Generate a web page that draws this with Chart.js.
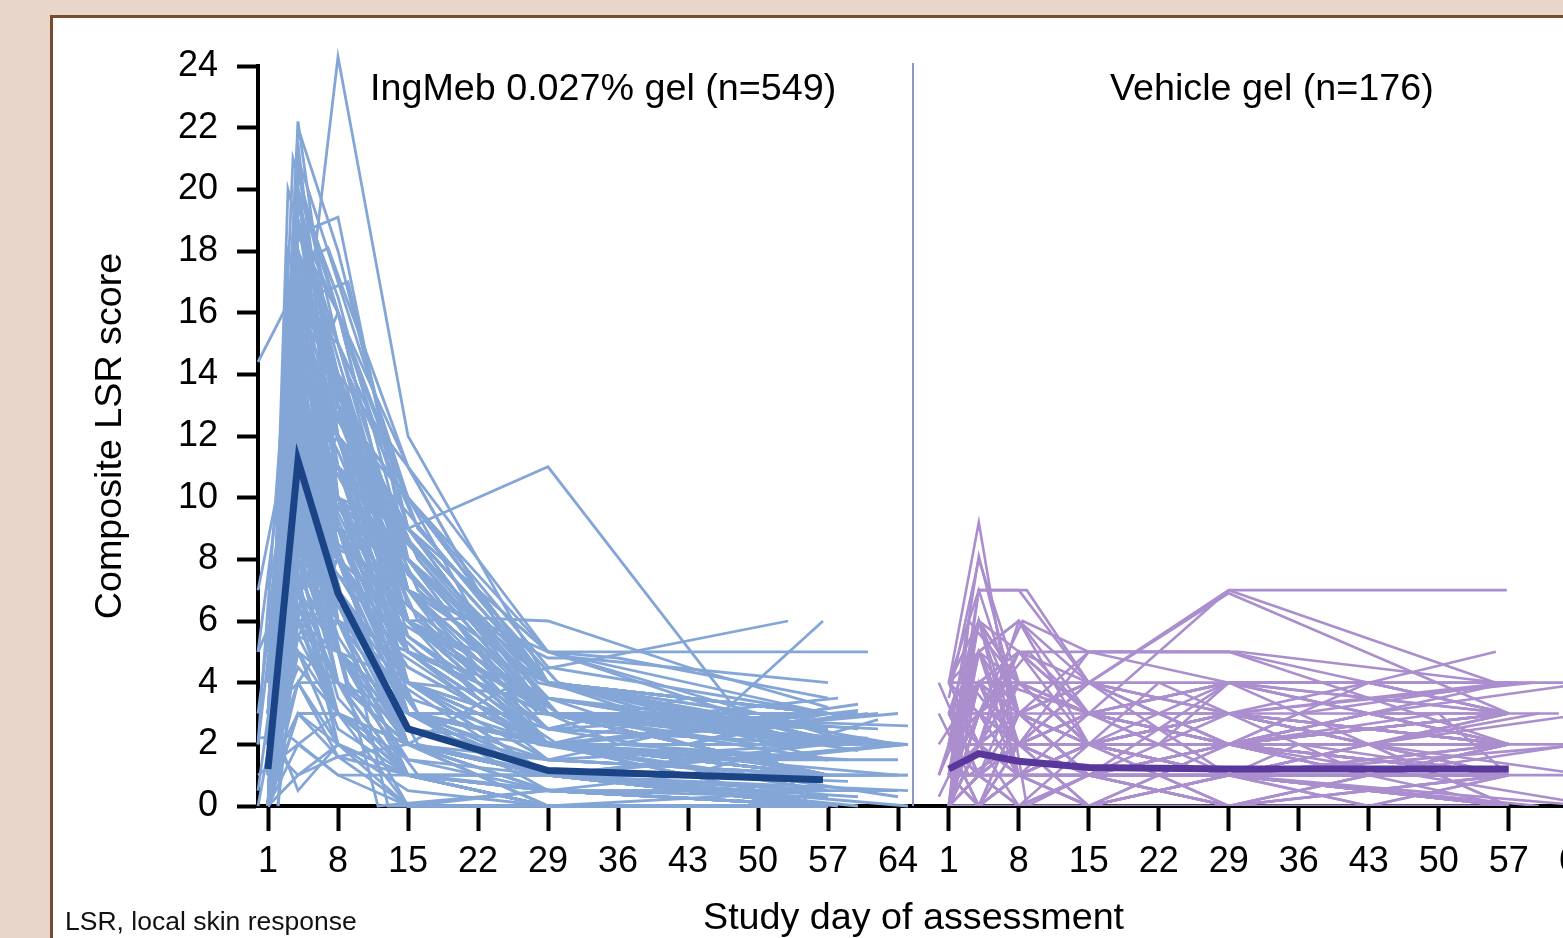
<!DOCTYPE html>
<html><head><meta charset="utf-8">
<script src="https://cdn.jsdelivr.net/npm/chart.js@4/dist/chart.umd.min.js"></script>
<style>
html,body{margin:0;padding:0;width:1563px;height:938px;overflow:hidden;background:#e9d6cb;font-family:'Liberation Sans',Arial,sans-serif;}
#panel{position:absolute;left:50px;top:15px;width:1600px;height:1000px;background:#fff;border:3px solid #7a4a2c;}
canvas{position:absolute;top:0;}
.lbl{position:absolute;white-space:nowrap;color:#000;line-height:1;}
#divider{position:absolute;left:912px;top:63px;width:2px;height:743px;background:#8d96c6;}
</style></head><body>
<div id="panel"></div>
<canvas id="cLeft" width="960" height="938" style="left:0;width:960px;height:938px"></canvas>
<canvas id="cRight" width="681" height="938" style="left:913px;width:681px;height:938px"></canvas>
<div id="divider"></div>
<div class="lbl" style="left:370px;top:69px;font-size:37.7px">IngMeb 0.027% gel (n=549)</div>
<div class="lbl" style="left:1110px;top:69px;font-size:37.7px">Vehicle gel (n=176)</div>
<div class="lbl" style="left:703px;top:898px;font-size:37.7px">Study day of assessment</div>
<div class="lbl" style="left:65px;top:908px;font-size:26.5px;color:#111">LSR, local skin response</div>
<script>
// ---- tick labels ----
const dayTicks = [1, 8, 15, 22, 29, 36, 43, 50, 57, 64];
const scoreTicks = [0, 2, 4, 6, 8, 10, 12, 14, 16, 18, 20, 22, 24];

// ---- group means: [day, score, day, score, ...] ----
const ingmebMean = [1,1.2, 4,11.2, 8,6.9, 15,2.5, 29,1.15, 56.5,0.85];
const vehicleMean = [1,1.2, 4,1.7, 8,1.45, 15,1.25, 29,1.2, 57,1.2];

// ---- individual patients: [day, score, day, score, ...] ----
const ingmebPatients = [
 [0,14.4, 5.7,18, 8,24.3, 15,12, 29,4, 57,1.5],
 [1,1, 4,22.2, 8,13, 15,5, 29,2, 57,0.5],
 [1,2, 4,21.5, 8,10, 15,3, 29,1, 57,0],
 [1,0, 4,20.5, 8,15, 15,7, 29,3, 58,2],
 [1,3, 4,19.8, 8,12, 15,4, 29,1, 57,1],
 [1,1, 3.5,18.5, 8,19.1, 15,8, 29,2, 57,1],
 [1,0, 4,17.5, 7,18.1, 15,11, 29,3, 60,2],
 [2,4, 5,16.5, 9,17, 15,9, 29,4, 57,3],
 [1,2, 4,17, 8,11, 15,6, 22,6.1, 29,6, 43,4.5, 57,3.2],
 [1,0, 4,16.5, 8,9, 15,3, 29,1, 57,0],
 [1,5, 4,16, 8,14, 12,10.6, 15,9, 29,11, 55,0.1],
 [1,1, 4,15.5, 8,8, 15,2, 29,0.5, 57,0],
 [0,5, 4,15, 8,12, 15,6, 29,3, 62,2],
 [1,2, 3,14.5, 8,10, 15,4, 29,2, 57,1],
 [1,0, 4,14, 8,7, 15,2, 29,1, 57,0],
 [1,3, 4,13.5, 8,13, 15,8, 29,4, 50,3],
 [1,1, 5,13, 8,6, 15,1, 29,0, 57,0],
 [2,0, 4,12.5, 8,11, 15,5, 29,2, 64,1],
 [1,4, 4,12, 8,9, 15,7, 29,5, 61,5],
 [1,2, 4,11.5, 8,5, 15,2, 29,1, 57,1],
 [1,0, 4,11, 8,8, 15,3, 29,1, 58,0],
 [1,6, 3,10.5, 8,7, 15,4, 29,2, 57,2],
 [1,1, 4,10, 8,12, 15,6, 29,3, 65,2.6],
 [1,0, 4,9.5, 8,4, 15,1, 29,0, 57,0],
 [1,2, 4,9, 8,6, 15,2, 29,1, 57,0],
 [1,3, 5,8.5, 8,10, 15,4, 29,2, 57,2],
 [1,0, 4,8, 8,3, 15,1, 29,0, 57,0],
 [1,1, 4,7.5, 8,5, 15,2, 28,4.4, 53,6],
 [1,0, 4,7, 8,2, 15,0.5, 29,0, 57,0],
 [1,1, 4,6.5, 8,4, 15,1, 29,0.5, 57,0],
 [1,0, 4,6, 8,3, 15,0, 29,0, 57,0],
 [1,2, 4,5.5, 8,8, 15,3, 29,1, 57,0.5],
 [1,1, 4,5, 8,2, 15,1, 29,0, 57,0],
 [1,0, 4,4, 8,6, 15,5, 29,2, 57,1],
 [1,7, 4,12, 8,9, 15,4, 29,2, 57,1],
 [0,2, 4,13, 8,16, 15,10, 29,4, 57,2],
 [1,1, 3,18, 8,14, 15,6, 29,2, 57,0],
 [1,0, 4,19, 8,11, 15,4, 29,1, 60,0],
 [1,2, 3.5,21, 8,16, 15,7, 29,3, 57,2],
 [1,4, 4,15, 8,10, 15,5, 29,3, 46,2.9, 56.5,6],
 [1,0, 4,10.5, 8,6, 15,2, 29,1, 57,0],
 [1,3, 4,9, 8,11, 15,7, 29,4.8, 32,4.8, 57,4],
 [1,1, 5,11, 8,7, 15,3, 29,1, 64,2],
 [1,0, 4,14.5, 8,8, 15,2, 29,0, 57,0],
 [1,2, 4,16, 8,12, 15,5, 29,2, 57,1],
 [1,0, 3,12, 8,5, 15,1, 29,0, 57,0],
 [1,1, 4,8.5, 8,4, 15,2, 29,1, 57,0.5],
 [1,0, 4,13, 8,9, 15,4, 29,2, 62,2],
 [1,5, 4,17.5, 8,13, 15,6, 29,3, 57,3],
 [1,2, 4,11, 8,10, 15,6, 29,2, 65,2],
 [1,0, 4,6, 8,5, 15,2, 29,1, 57,0],
 [0,0.5, 4,10, 8,7, 15,3, 29,1, 57,0],
 [1,1, 4,14, 8,10, 15,3, 29,1, 65,1],
 [1,3, 4,12.5, 8,7, 15,2, 29,0, 57,0],
 [1,0, 4,9.5, 8,8, 15,5, 29,3, 60,3],
 [1,2, 4,15, 8,11, 15,4, 29,1, 57,1],
 [1,1, 4,7, 8,9, 15,6, 29,2, 57,2],
 [1,0, 4,5, 8,3, 15,2, 29,1, 57,1],
 [1,4, 4,8, 8,6, 15,3, 29,2, 64,0.3],
 [1,0, 4,18, 8,12, 15,5, 29,2, 57,1],
 [0,7, 4,13.5, 8,9, 15,3, 29,1, 57,0],
 [1,2, 4,9, 8,5, 15,1, 29,0.5, 57,0],
 [1,0, 4,12, 8,8, 15,4, 29,2, 57,3],
 [1,1, 4,16.5, 8,10, 15,3, 29,1, 57,0],
 [1,3, 4,10, 8,6, 15,2, 29,1, 50,1],
 [1,0, 4,6.5, 8,3, 15,1, 29,0, 57,0],
 [1,2, 4,19.5, 8,14, 15,6, 29,3, 57,2],
 [1,1, 4,8, 8,10, 15,8, 29,3, 57,1],
 [1,0, 4,11.5, 8,6, 15,1, 29,0, 57,0],
 [1,6, 4,14, 8,12, 15,7, 29,4, 60,2],
 [1,0, 4,3, 8,2, 15,1, 29,0, 57,0],
 [1,2, 4,4.5, 8,3, 15,2, 29,1, 57,1],
 [0,2, 4,20, 8,13, 15,5, 29,2, 57,0],
 [1,1, 4,13, 8,11, 15,9, 29,3, 57,2],
 [1,0, 4,10, 8,4, 15,0, 29,0, 57,0],
 [1,3, 4,15.5, 8,9, 15,4, 29,2, 62,3],
 [1,1, 4,7, 8,5, 15,3, 29,1, 57,2],
 [1,0, 4,12.5, 8,10, 15,6, 29,2, 57,0],
 [1,2, 4,9.5, 8,7, 15,2, 29,1, 65,1],
 [1,0, 4,17, 8,9, 15,3, 29,0.5, 57,0],
 [1,1, 4,11, 8,13, 15,10, 29,4, 57,3],
 [1,4, 4,6, 8,4, 15,2, 29,1, 57,0],
 [1,0, 4,14.5, 8,12, 15,5, 29,3, 57,1],
 [1,2, 4,8.5, 8,6, 15,3, 29,2, 57,2],
 [1,0, 4,13, 8,7, 15,2, 29,0, 57,0],
 [1,1, 4,10.5, 8,9, 15,4, 29,1, 57,1],
 [1,0, 4,7.5, 8,2, 15,0, 29,0, 57,0],
 [1,3, 4,16, 8,15, 15,8, 29,4, 57,2],
 [1,1, 4,5.5, 8,5, 15,4, 29,2, 57,1],
 [1,0, 4,9, 8,4, 15,1, 29,0, 57,0],
 [0,2.2, 3,2.3, 8,1, 15,0, 29,0.5, 57,0.3],
 [0,5, 4,8, 8,5, 15,2, 29,1, 57,1],
 [1,0, 3,6, 7,9, 14,4, 28,1, 65,2],
 [2,1, 5,12, 9,8, 16,3, 30,2, 60,3.1],
 [1,0, 4,16, 8,11, 14,6, 29,3, 57,2.5],
 [1,2, 5,10, 9,6, 16,3, 30,1, 62,1],
 [1,0, 3,14, 7,10, 14,5, 28,2, 57,0.5],
 [2,3, 5,9, 9,7, 16,5, 30,2, 64,3],
 [1,1, 4,12, 8,10, 15,9, 29,5, 36,4.8, 57,3.5],
 [1,1, 4,18, 15,6, 29,2, 57,1],
 [1,0, 3,16, 15,8, 29,3, 57,2],
 [1,2, 4,20, 15,9, 29,4, 57,2],
 [1,3, 5,15, 15,7, 29,3, 64,2],
 [1,0, 4,14, 15,10, 29,4, 57,3],
 [1,1, 4,17, 9,13, 16,8, 29,3, 57,1],
 [2,2, 5,19, 9,15, 16,9, 30,4, 60,2],
 [1,0, 4,21, 8,17, 15,10, 22,7, 29,4, 57,2],
 [1,1, 3,16.5, 7,14, 14,9, 28,4, 57,2],
 [1,4, 4,18.5, 8,16, 15,11, 29,5, 57,3],
 [1,0, 4,12, 8,14, 15,8, 22,5, 29,3, 57,1],
 [1,2, 4,15, 8,13, 15,7, 29,4, 43,3, 57,2],
 [1,1, 4,13, 8,12, 15,9, 29,5, 50,3, 62,2],
 [1,0, 3,11, 8,13, 15,10, 29,5, 57,2],
 [1,3, 4,16, 8,11, 15,8, 29,4, 57,3],
 [1,2, 5,14, 9,12, 16,7, 30,3, 57,2],
 [1,0, 4,10, 8,11, 15,9, 29,4, 64,2],
 [1,1, 4,19, 8,16, 15,7, 29,2, 57,1],
 [1,2, 4,17, 8,12, 15,8, 29,3, 57,2.5],
 [1,0, 4,15, 8,10, 15,6, 29,3.5, 57,2],
 [0,3, 4,13, 8,11, 15,7, 29,3, 65,2],
 [1,0, 4,11, 8,9, 15,8, 29,3, 57,3],
 [1,1, 4,9, 8,10, 15,7, 22,4, 29,2, 57,2],
 [1,2, 4,12, 8,8, 15,6, 29,2.5, 57,2],
 [1,0, 4,14, 8,9, 15,5, 29,3, 57,1.5],
 [1,3, 4,13, 8,10, 15,5.5, 29,2, 60,2],
 [1,1, 4,16, 8,12, 15,7.5, 29,3, 57,2],
 [1,0, 4,18, 8,13, 15,6.5, 29,2, 57,1],
 [1,2, 4,10, 8,8, 15,4.5, 29,2, 57,2],
 [1,0, 4,8, 8,7, 15,4, 29,2.5, 57,3],
 [1,1, 4,6, 8,6, 15,5, 29,3, 57,2.5],
 [1,0, 4,7, 8,8, 15,5, 29,2, 57,2],
 [1,4, 4,9, 8,8, 15,6, 29,3, 50,2],
 [1,2, 4,11, 8,7, 15,3.5, 29,2, 57,3],
 [1,0, 3,20, 8,14, 15,6, 29,2.5, 57,2],
 [1,1, 4,22, 8,18, 15,9, 29,3, 57,1],
 [1,3, 4,19, 8,15, 15,10, 29,4.5, 57,3],
 [1,0, 4,17.5, 8,14, 15,8.5, 29,3.5, 57,2],
 [1,2, 4,16, 7,15, 14,8, 28,3, 57,2],
 [1,1, 5,14.5, 9,11, 16,6, 30,3, 62,2],
 [1,0, 4,12.5, 8,9.5, 15,5, 29,2, 57,1],
 [1,2, 4,10, 8,6, 15,3, 29,1.5, 57,2],
 [1,0, 4,8.5, 8,7, 15,3, 29,2, 57,1],
 [1,1, 4,13.5, 8,8, 15,4, 29,1.5, 57,1],
 [1,0, 4,11, 8,5, 15,2.5, 29,2, 57,1.5],
 [1,2, 4,7, 8,4, 15,2, 29,1.5, 57,1],
 [1,0, 4,5, 8,4, 15,3, 29,2, 57,2],
 [1,1, 4,3, 8,3, 15,2, 29,1, 57,1],
 [1,0, 4,2, 8,1, 15,1, 29,1, 57,0.5],
 [1,3, 4,4, 8,2, 15,1, 29,0.5, 57,0],
 [1,0, 4,1, 8,2, 15,1, 29,0, 57,0],
 [1,2, 4,6, 8,3, 15,1, 29,1, 57,1],
 [1,0, 4,9, 8,5, 15,2, 29,1, 65,0.5],
 [1,1, 4,12, 8,6, 15,2, 29,0.5, 57,0.5],
 [1,0, 4,15, 8,7, 15,3, 29,1, 57,0],
 [1,2, 4,18, 8,9, 15,3, 29,1, 57,1],
 [1,0, 4,20, 8,10, 15,4, 29,1, 57,0.5],
 [1,1, 4,14, 8,6, 15,2, 29,1, 57,0],
 [1,0, 4,10, 8,5, 15,1.5, 29,0.5, 57,0],
 [1,3, 4,8, 8,3.5, 15,1, 29,0, 57,0],
 [1,0, 4,6, 8,2.5, 15,1, 29,0.5, 57,0],
 [2,1, 5,11, 9,6, 16,2, 30,1, 64,1],
 [2,0, 5,9, 9,4, 16,1, 30,0.5, 64,0.5],
 [2,2, 5,13, 9,7, 16,3, 30,1, 60,1],
 [1,0, 4,16, 8,8, 15,2, 29,0.5, 57,0],
 [1,1, 4,7, 8,3, 15,1, 29,1, 65,0],
 [1,0, 4,12, 8,6.5, 15,2, 29,1, 57,0.5],
 [1,2, 4,9.5, 8,5.5, 15,2, 29,1, 57,1],
 [1,0, 4,5.5, 8,3, 15,1.5, 29,1, 57,0.5],
 [1,1, 4,4, 8,4, 15,2.5, 29,1.5, 57,1],
 [1,0, 4,3, 8,1.6, 15,1, 29,1, 57,0.5],
 [1,2, 4,1, 8,1.6, 15,0, 29,0, 57,0],
 [1,1, 4,4, 8,1.6, 15,2, 29,1, 57,1],
 [0,1, 4,2, 8,3, 15,1, 29,0.5, 57,0],
 [1,3, 4,0.5, 8,2, 15,1, 29,0, 57,0.5],
 [0,0, 4,7, 8,5, 15,3, 29,1, 57,1],
 [1,0, 4,13, 11,9, 15,7, 29,3, 57,2],
 [1,1, 4,15, 11,11, 15,8, 29,4, 57,2],
 [1,2, 4,12, 11,8, 15,6, 29,3, 57,1],
 [1,0, 4,17, 10,12, 15,9, 29,4, 57,2],
 [1,1, 4,11, 10,9, 15,7, 29,3, 57,2],
 [1,0, 4,9, 10,8, 15,6, 29,2, 57,1],
 [1,2, 5,16, 8,13, 15,8, 22,5, 29,3, 57,2],
 [1,0, 4,14, 8,12, 15,9, 22,6, 29,4, 43,3, 57,2],
 [1,1, 4,10, 8,10, 15,8, 22,6, 29,3, 57,2],
 [1,3, 4,12, 8,11, 15,7, 22,5, 29,3, 43,2, 57,3],
 [1,0, 4,18, 8,15, 15,10, 22,6, 29,4, 57,2],
 [1,2, 4,13, 8,9, 15,6, 22,4, 29,3, 57,2],
 [1,1, 4,16, 8,14, 15,11, 22,7, 29,4, 57,3],
 [1,0, 4,11, 8,10, 15,7, 22,4.5, 29,3, 57,1],
 [1,2, 4,8, 8,9, 15,6, 22,3.5, 29,2, 57,2],
 [1,0, 4,15, 8,11, 15,8.5, 29,4, 50,3, 60,2],
 [1,1, 4,12, 8,10, 15,8, 29,3.5, 43,3, 57,2.5],
 [1,0, 4,10, 8,9, 15,7, 29,3, 43,2.5, 64,2],
 [1,3, 4,13, 8,12, 15,9.5, 29,4, 57,3],
 [1,1, 4,9, 8,8.5, 15,6.5, 29,3, 57,2],
 [1,0, 4,7, 8,7.5, 15,5.5, 29,2.5, 57,2],
 [1,2, 4,6, 8,6.5, 15,4.5, 29,2, 57,1.5],
 [1,0, 4,14, 8,11.5, 15,6, 29,2, 57,1],
 [1,1, 4,19, 8,14.5, 15,7, 29,2.5, 57,1],
 [1,0, 4,17, 8,13.5, 15,5.5, 29,2, 57,1],
 [1,2, 4,20, 8,16.5, 15,8, 29,3, 57,2],
 [1,0, 4,21, 8,12, 15,6, 29,2, 57,1],
 [1,1, 3,17, 8,11, 15,5, 29,2, 57,1],
 [1,0, 3,15, 8,12, 15,4, 29,1.5, 57,1],
 [1,2, 5,18, 9,14, 16,9, 30,4, 57,2],
 [1,0, 5,16, 9,13, 16,8, 30,3, 57,2],
 [2,1, 5,14, 9,12, 16,7, 30,3, 62,2.5],
 [1,0, 4,12, 8,7, 13,0, 29,0, 57,0],
 [1,1, 4,10, 8,5, 12,0, 29,0.5, 57,0],
 [1,1, 4,12, 8,8, 15,4, 29,2, 43,3, 60,2.5],
 [1,0, 4,10, 8,7, 15,3, 29,3, 43,2, 59,3],
 [1,2, 4,14, 8,9, 15,5, 29,3.5, 50,2.5, 61,3],
 [1,0, 4,9, 8,6, 15,4, 29,2.5, 43,3.5, 58,2],
 [1,1, 4,11, 8,8, 15,5, 29,1.5, 43,2.5, 60,3.3],
 [1,0, 4,13, 8,10, 15,6, 29,3, 36,2, 59,1.5],
 [1,2, 4,8, 8,6, 15,3, 29,2, 43,1, 62,2.8],
 [1,0, 4,15, 8,11, 15,5, 29,2, 50,1.5, 65,2],
 [1,1, 4,7, 8,5, 15,3, 29,3, 43,3, 58,3.5],
 [1,0, 4,12, 8,9, 15,4, 29,3.5, 43,2, 57,3.2],
 [1,3, 4,10, 8,7, 15,4, 29,2.5, 36,3, 60,1.8],
 [1,0, 4,16, 8,12, 15,6, 29,4, 43,2.5, 61,2.2],
 [1,1, 4,9, 8,7, 15,3, 29,1, 43,1.5, 64,1.5],
 [1,0, 4,11, 8,8, 15,2, 29,0.5, 43,1, 59,0.8],
 [1,2, 4,13, 8,9, 15,4, 29,1, 50,0.5, 60,0.3]
];

const vehiclePatients = [
 [1,4, 4,9.2, 8.8,0, 15,1, 29,1, 57,1],
 [1,2, 4,8.1, 8,3, 15,2, 29,1, 57,0],
 [1,0, 4,7, 8.8,7, 15,4, 29,7, 56.8,7],
 [1,1, 4,3, 8.4,6, 15,5, 24.6,5, 30,5, 56,4],
 [1,3, 4,4, 8,4, 15,3, 29,7, 55.7,4],
 [1,0, 4,2, 8,6, 15,3, 29,2, 57,1],
 [1,4, 4,7, 8,3, 15,2, 29,3, 57,2],
 [0,1, 4,5, 8,2, 15,1, 29,1, 57,0],
 [1,2, 4,6, 8,4, 15,2, 29,2, 57,3],
 [1,0, 4,1, 8,1, 15,0, 29,1, 57,1],
 [1,1, 4,0, 8,2, 15,3, 29,1, 65,0],
 [1,4, 4,4, 8.2,4, 15,4, 29,4, 57.9,4],
 [1,3, 4,2, 8,1, 15,2, 29,0, 57,2],
 [1,0, 4,0, 8,0, 15,1, 29,2, 57,3],
 [1,2, 4,3, 8,5, 15,5, 29,5, 43,4, 55.7,5],
 [1,1, 4,1, 8,1, 15,1, 29,1, 65,1],
 [1,0, 4,2, 8,3, 15,4, 29,3, 59.5,4],
 [1,2, 4,1, 8,0, 15,0, 29,1, 57,1],
 [1,3, 4,5, 8,2, 15,2, 29,2, 65,2],
 [1,0, 4,3, 8,2, 15,1, 29,0, 57,0],
 [1,1, 4,2, 8,3, 15,2, 29,4, 65,4],
 [0,4, 4,1, 8,0, 15,2, 29,3, 57,3],
 [1,2, 4,4, 8,3, 15,1, 29,1, 57,2],
 [1,0, 4,1, 8,2, 15,3, 29,2, 57,1],
 [1,1, 4,3, 8,1, 15,0, 29,0, 57,0],
 [1,3, 4,6, 8,5, 15,3, 29,4, 57,3],
 [1,0, 4,0, 8,1, 15,2, 29,3, 57,2],
 [1,2, 4,2, 8,2, 15,2, 29,2, 57,2],
 [1,1, 4,4, 8,3, 15,2, 29,1, 60,0],
 [1,0, 4,2, 8,1, 15,1, 29,0, 57,1],
 [1,4, 4,3, 8,4, 15,3, 29,2, 57,1],
 [1,2, 4,0, 8,1, 15,1, 29,3, 57,4],
 [1,0, 4,1, 8,0, 15,0, 29,0, 57,0],
 [1,1, 4,2, 8,4, 15,3, 29,3, 57,2],
 [0,0.3, 4,3, 8,2, 15,1, 29,1, 65,2],
 [1,3, 4,1, 8,2, 15,4, 29,3, 57,1],
 [1,0, 4,5, 8,3, 15,2, 29,1, 57,0],
 [1,2, 4,2, 8,1, 15,2, 29,0, 57,1],
 [1,1, 4,0, 8,3, 15,1, 29,2, 57,3],
 [1,0, 4,1, 8,2, 15,0, 29,1, 57,2],
 [1,3.5, 4,8, 8,4, 15,2, 29,1, 57,1],
 [1,0, 4,0, 8,0, 15,0, 29,1, 57,0],
 [1,2, 4,3, 8,2, 15,3, 29,2, 66,0],
 [1,1, 4,1, 8,1, 15,2, 29,1, 57,1],
 [1,0, 4,2, 8,3, 15,1, 29,4, 57,2],
 [1,4, 4,5, 8,6, 15,4, 22,3, 29,2, 57,3],
 [1,2, 4,1, 8,2, 15,5, 29,5, 57,2],
 [1,1, 4,7, 8,7, 15,4, 29,6.9, 57,3],
 [0,1, 4,4, 8,5, 15,3, 29,2, 57,1],
 [1,0, 4,6, 8,2, 15,0, 29,2, 57,0],
 [1,1, 4,2, 8,3, 15,2, 22,4, 29,3, 43,2, 57,3],
 [1,0, 4,1, 8,2, 15,3, 22,2, 29,4, 43,3, 57,2],
 [1,2, 4,3, 8,1, 15,0, 22,1, 29,2, 36,3, 57,4],
 [1,3, 4,2, 8,4, 15,2, 29,1, 43,2, 57,0],
 [1,0, 4,4, 8,2, 15,3, 29,2, 50,3, 57,1],
 [1,1, 4,5, 8,3, 15,1, 29,2, 43,1, 57,2],
 [1,2, 4,0, 8,1, 15,2, 29,3, 43,4, 57,3],
 [1,0, 4,2, 8,5, 15,4, 29,3, 43,2, 60,3],
 [1,1, 4,3, 8,2, 15,2, 29,1, 36,2, 57,1],
 [1,4, 4,6, 8,4, 15,3, 29,4, 43,3, 57,2],
 [1,0, 4,0, 8,1, 15,1, 29,2, 43,1, 64,2],
 [1,2, 4,1, 8,3, 15,4, 29,2, 43,3, 57,4],
 [1,1, 4,2, 8,0, 15,1, 29,1, 43,0, 57,1],
 [1,3, 4,4, 8,3, 15,5, 29,4, 43,4, 57,3],
 [1,0, 4,3, 8,4, 15,2, 29,1, 43,2, 65,3],
 [1,2, 4,5, 8,2, 15,1, 29,0, 43,1, 57,2],
 [1,1, 4,1, 8,2, 15,3, 29,3, 43,2, 57,1],
 [1,0, 4,2, 8,1, 15,0, 29,1, 43,2, 57,0],
 [1,3, 4,3, 8,2, 15,1, 29,2, 43,3, 65,4],
 [1,2, 4,4, 8,5, 15,3, 29,2, 43,1, 57,2],
 [1,0, 4,1, 8,0, 15,1, 29,0, 43,1, 57,2],
 [1,1, 4,0, 8,2, 15,2, 29,3, 43,2, 65,1],
 [1,4, 4,2, 8,1, 15,2, 29,1, 43,2, 57,3],
 [1,0, 4,3, 8,3, 15,4, 29,2, 43,3, 57,2],
 [1,2, 4,2, 8,4, 15,2, 29,3, 43,1, 57,1],
 [1,1, 4,6, 8,3, 15,2, 29,2, 43,3, 62,3],
 [1,0, 4,4, 8,1, 15,3, 29,4, 43,2, 57,2],
 [1,3, 4,1, 8,2, 15,1, 29,2, 43,4, 57,3],
 [1,2, 4,0, 8,3, 15,4, 29,1, 43,0, 57,1],
 [1,0, 4,5, 8,6, 15,2, 29,3, 43,2, 57,1],
 [1,3, 4,5, 8,1, 15,2, 29,1, 57,1],
 [1,1, 3,4, 8,2, 15,1, 29,2, 57,2],
 [1,2, 4,3, 6,4, 15,3, 29,2, 57,1],
 [1,0, 3,6, 8,4, 15,2, 29,1, 57,0],
 [0,2, 4,4, 8,3, 15,3, 29,2, 57,2],
 [1,4, 4,2, 8,3, 15,1, 29,1, 57,1],
 [1,0, 4,4, 8,2, 15,2, 29,3, 57,2],
 [1,3, 5,3, 8,5, 15,2, 29,1, 57,1],
 [1,1, 4,6, 8,1, 15,1, 29,0, 57,1],
 [1,2, 4,5, 8,4, 15,3, 29,2, 57,3],
 [0,3, 3,1, 8,2, 15,2, 29,1, 57,0],
 [1,0, 4,3, 9,5, 15,3, 29,2, 57,1],
 [1,2, 4,1, 8,4, 15,2, 29,3, 57,2],
 [1,4, 4,3, 8,2, 15,4, 29,2, 57,2],
 [1,1, 4,5, 8,2, 15,3, 29,4, 57,3]
];

function toPoints(arr) {
  const pts = [];
  for (let i = 0; i < arr.length; i += 2) pts.push({x: arr[i], y: arr[i + 1]});
  return pts;
}
function buildDatasets(patients, mean, lineColor, meanColor, w) {
  const ds = [{data: toPoints(mean), borderColor: meanColor, borderWidth: 7, order: 0}];
  patients.forEach(p => ds.push({data: toPoints(p), borderColor: lineColor, borderWidth: w, order: 1}));
  return ds;
}
const FONT = "'Liberation Sans', Arial, sans-serif";
function xScale(min, max) {
  return {
    type: 'linear', min: min, max: max,
    afterBuildTicks: s => { s.ticks = dayTicks.map(v => ({value: v})); },
    afterFit: s => { s.height = 132; s.paddingLeft = 0; s.paddingRight = 0; },
    grid: {drawOnChartArea: false, drawTicks: true, tickLength: 25, tickWidth: 4, tickColor: '#000'},
    border: {display: true, color: '#000', width: 4},
    ticks: {color: '#000', font: {family: FONT, size: 36}, padding: 9, maxRotation: 0, autoSkip: false}
  };
}
const common = {
  responsive: false, animation: false, devicePixelRatio: 1,
  plugins: {legend: {display: false}, tooltip: {enabled: false}, title: {display: false}},
  elements: {point: {radius: 0}, line: {tension: 0, borderCapStyle: 'butt', borderJoinStyle: 'miter'}},
  events: []
};

new Chart(document.getElementById('cLeft'), {
  type: 'line',
  data: {datasets: buildDatasets(ingmebPatients, ingmebMean, '#84a6d7', '#1a4485', 2.8)},
  options: Object.assign({}, common, {
    clip: false,
    layout: {autoPadding: false, padding: {top: 66, left: 0, right: 47, bottom: 0}},
    scales: {
      x: xScale(0, 65.5),
      y: {
        min: 0, max: 24,
        afterBuildTicks: s => { s.ticks = scoreTicks.map(v => ({value: v})); },
        afterFit: s => { s.width = 258; s.paddingTop = 0; s.paddingBottom = 0; },
        grid: {drawOnChartArea: false, drawTicks: true, tickLength: 21, tickWidth: 4, tickColor: '#000'},
        border: {display: true, color: '#000', width: 4},
        ticks: {color: '#000', font: {family: FONT, size: 36}, padding: 19},
        title: {display: true, text: 'Composite LSR score', color: '#000', font: {family: FONT, size: 37.7}, padding: {top: 88, bottom: 0}}
      }
    }
  })
});

new Chart(document.getElementById('cRight'), {
  type: 'line',
  data: {datasets: buildDatasets(vehiclePatients, vehicleMean, '#aa8ecd', '#5a389b', 2.6)},
  options: Object.assign({}, common, {
    layout: {autoPadding: false, padding: {top: 66, left: 0, right: 0, bottom: 0}},
    scales: {
      x: xScale(-2.58, 65.52),
      y: {min: 0, max: 24, display: false}
    }
  })
});
</script>
</body></html>
